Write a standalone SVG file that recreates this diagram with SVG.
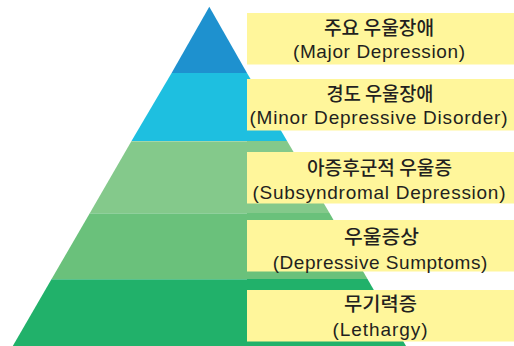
<svg xmlns="http://www.w3.org/2000/svg" width="514" height="346" viewBox="0 0 514 346">
  <style>
    .box { fill: #fff69b; }
    .ko { font-family: "Noto Sans CJK KR", "Noto Sans", sans-serif; font-size: 19px; font-weight: 500; fill: #231f20; text-anchor: middle; }
    .en { font-family: "Liberation Sans", Arial, sans-serif; font-size: 19px; fill: #231f20; text-anchor: middle; }
    .sep { stroke: #ffffff; stroke-opacity: 0.25; stroke-width: 1; }
  </style>
  <rect width="514" height="346" fill="#ffffff"/>

  <!-- level 1: apex -->
  <g id="level-major">
    <polygon points="209.3,6.7 247,73 171.6,73" fill="#1e91cf"/>
    <rect class="box" x="247" y="13" width="267" height="51.5"/>
    <text class="ko" x="379" y="34.5" textLength="110" lengthAdjust="spacingAndGlyphs">주요 우울장애</text>
    <text class="en" x="379" y="58" textLength="172" lengthAdjust="spacing">(Major Depression)</text>
  </g>

  <!-- level 2 -->
  <g id="level-minor">
    <polygon points="171.6,73 247,73 287.1,141 131.5,141" fill="#1ebfe0"/>
    <rect class="box" x="247" y="79" width="267" height="51.5"/>
    <text class="ko" x="380" y="100.5" textLength="107" lengthAdjust="spacingAndGlyphs">경도 우울장애</text>
    <text class="en" x="378.5" y="124" textLength="258" lengthAdjust="spacing">(Minor Depressive Disorder)</text>
  </g>

  <!-- level 3 -->
  <g id="level-subsyndromal">
    <polygon points="131.5,141 287.1,141 329.5,213 89.9,213" fill="#84c98b"/>
    <rect class="box" x="247" y="152" width="267" height="51.5"/>
    <text class="ko" x="379.5" y="174.5" textLength="145" lengthAdjust="spacingAndGlyphs">아증후군적 우울증</text>
    <text class="en" x="379" y="198.5" textLength="253" lengthAdjust="spacing">(Subsyndromal Depression)</text>
  </g>

  <!-- level 4 -->
  <g id="level-symptoms">
    <polygon points="89.9,213 329.5,213 367.5,279 51.6,279" fill="#6ac17b"/>
    <rect class="box" x="247" y="220" width="267" height="51.5"/>
    <text class="ko" x="381.5" y="243.5" textLength="75" lengthAdjust="spacingAndGlyphs">우울증상</text>
    <text class="en" x="380" y="269" textLength="214.5" lengthAdjust="spacing">(Depressive Sumptoms)</text>
  </g>

  <!-- level 5: base -->
  <g id="level-lethargy">
    <polygon points="51.6,279 367.5,279 406,346 12.8,346" fill="#21b16a"/>
    <rect class="box" x="247" y="290" width="267" height="51.5"/>
    <text class="ko" x="380.5" y="310.5" textLength="73" lengthAdjust="spacingAndGlyphs">무기력증</text>
    <text class="en" x="380" y="336" textLength="95" lengthAdjust="spacing">(Lethargy)</text>
  </g>

  <!-- faint seams between the green bands -->
  <g id="seams">
    <line class="sep" x1="131.5" y1="141.5" x2="247" y2="141.5"/>
    <line class="sep" x1="89.9" y1="213.5" x2="247" y2="213.5"/>
    <line class="sep" x1="51.6" y1="279.5" x2="247" y2="279.5"/>
  </g>
</svg>
